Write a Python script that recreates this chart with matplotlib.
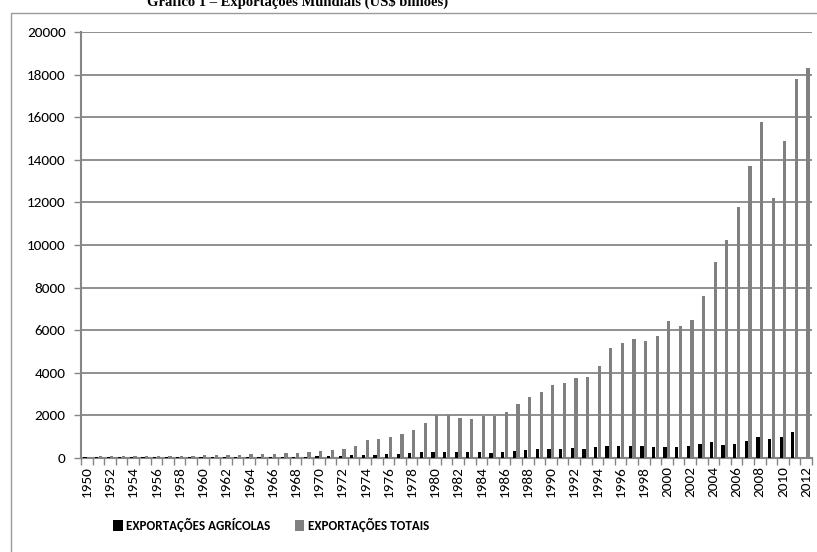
import matplotlib
matplotlib.use("Agg")
import matplotlib.pyplot as plt
from matplotlib import font_manager
from matplotlib.patches import Rectangle, Patch
import numpy as np

years = list(range(1950, 2013))

# Exportações totais (US$ bilhões)
exportacoes_totais = [
    62, 84, 81, 84, 87, 95, 104, 113, 109, 116,
    130, 136, 142, 157, 176, 190, 209, 218, 243, 279,
    317, 355, 421, 584, 842, 877, 992, 1128, 1305, 1659,
    2036, 2010, 1882, 1845, 1956, 1954, 2138, 2516, 2869, 3098,
    3449, 3515, 3766, 3782, 4326, 5164, 5403, 5591, 5501, 5712,
    6452, 6191, 6492, 7586, 9218, 10220, 11800, 13690, 15780, 12190,
    14860, 17780, 18320,
]

# Exportações agrícolas (US$ bilhões)
exportacoes_agricolas = [
    30, 35, 33, 33, 35, 37, 40, 42, 41, 42,
    46, 47, 48, 52, 56, 58, 60, 60, 62, 66,
    71, 76, 90, 125, 140, 140, 172, 187, 219, 281,
    297, 282, 266, 266, 266, 250, 282, 329, 376, 407,
    407, 407, 454, 407, 500, 579, 580, 580, 550, 533,
    533, 533, 564, 658, 768, 611, 674, 815, 1003, 893,
    1003, 1238, 0,
]

tick_labels = [str(y) if (y - 1950) % 2 == 0 else "" for y in years]
series_names = ["EXPORTAÇÕES AGRÍCOLAS", "EXPORTAÇÕES TOTAIS"]


def have_font(name):
    try:
        font_manager.findfont(font_manager.FontProperties(family=name),
                              fallback_to_default=False)
        return True
    except Exception:
        return False


# pick a narrow sans for labels, with size tuned to the family's width
if have_font("Carlito"):
    LABEL_FONT, TICK_SIZE, LEG_SIZE, COLSP = "Carlito", 11, 9.4, 1.85
elif have_font("Liberation Sans Narrow"):
    LABEL_FONT, TICK_SIZE, LEG_SIZE, COLSP = "Liberation Sans Narrow", 11, 9.2, 1.85
else:
    LABEL_FONT, TICK_SIZE, LEG_SIZE, COLSP = "Liberation Sans", 10, 7.6, 2.3

GRAY = "#808080"
AXIS_GRAY = "#868686"

fig = plt.figure(figsize=(8.17, 5.52), dpi=100)
W, H = 817, 552

# outer chart-area border
fig.patches.append(Rectangle((11 / W, -0.02), 1.1, 1 - 13 / H + 0.02,
                             transform=fig.transFigure, fill=False,
                             edgecolor="#9a9a9a", linewidth=1.0))

ax = fig.add_axes([81 / W, 1 - 458 / H, (812 - 81) / W, (458 - 32) / H])

x = np.arange(len(years))
bw = 0.28
ax.bar(x - 0.16, exportacoes_agricolas, width=bw, color="black", zorder=3)
ax.bar(x + 0.16, exportacoes_totais, width=bw, color=GRAY, zorder=3)

ax.set_xlim(-0.5, len(years) - 0.5)
ax.set_ylim(0, 20000)
ax.set_yticks(np.arange(0, 20001, 2000))
ax.yaxis.grid(True, color=AXIS_GRAY, linewidth=1.3, zorder=0)
ax.set_axisbelow(True)

for s in ["top", "right"]:
    ax.spines[s].set_visible(False)
for s in ["left", "bottom"]:
    ax.spines[s].set_color(AXIS_GRAY)
    ax.spines[s].set_linewidth(1.5)

ax.tick_params(axis="y", direction="out", length=5, width=1, color=AXIS_GRAY,
               labelsize=TICK_SIZE, pad=6)
ax.set_xticks(x)
ax.set_xticklabels(tick_labels, rotation=90, fontsize=TICK_SIZE)
ax.tick_params(axis="x", length=0, pad=6)
ax.set_xticks(np.arange(-0.5, len(years), 1.0), minor=True)
ax.tick_params(axis="x", which="minor", direction="out", length=5, width=1,
               color=AXIS_GRAY)
for lab in ax.get_xticklabels() + ax.get_yticklabels():
    lab.set_family(LABEL_FONT)

fig.text(298 / W, 1 - 6 / H,
         "Gráfico 1 – Exportações Mundiais (US$ bilhões)",
         ha="center", va="baseline", fontsize=10.5, fontweight="bold",
         family="Liberation Serif")

handles = [Patch(facecolor="black"), Patch(facecolor=GRAY)]
fig.legend(handles, series_names,
           loc="center", bbox_to_anchor=(271 / W, 1 - 525 / H), ncol=2,
           frameon=False, handlelength=0.75, handleheight=0.9,
           handletextpad=0.25, columnspacing=COLSP,
           prop={"family": LABEL_FONT, "weight": "bold", "size": LEG_SIZE})

fig.savefig("out.png", dpi=100)
